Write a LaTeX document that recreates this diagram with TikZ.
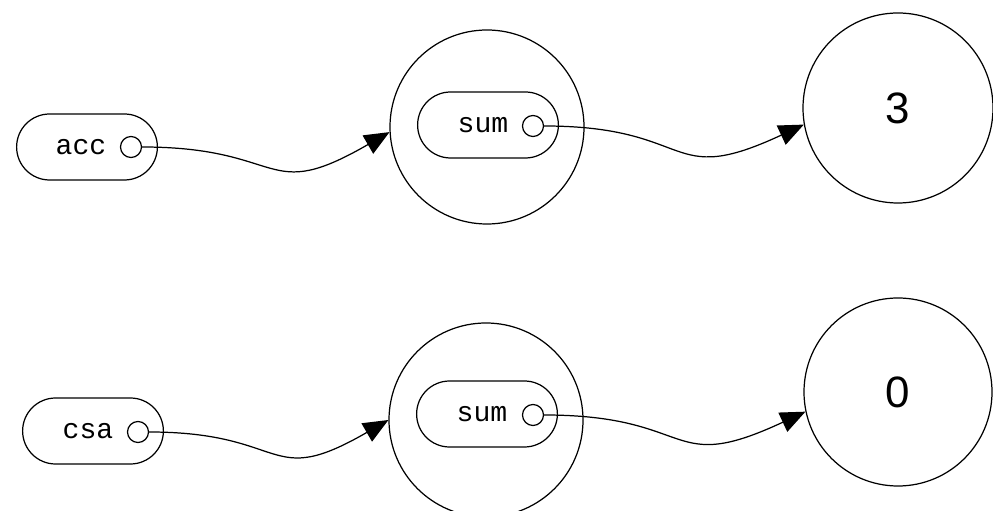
\documentclass[tikz,border=0pt]{standalone}
\usepackage{fontspec}
\setmonofont{Liberation Mono}
\setsansfont{Liberation Sans}
\usetikzlibrary{arrows.meta,positioning,shapes.misc}

\tikzset{
    pill/.style={draw, rounded rectangle, minimum width=3.05cm, minimum height=1.32cm, line width=0.7pt},
    tag/.style={font=\ttfamily\fontsize{16}{18}\selectfont, inner sep=0pt},
    port/.style={draw, circle, minimum size=0.42cm, inner sep=0pt, line width=0.7pt},
    cell/.style={draw, circle, line width=0.7pt},
    value/.style={font=\sffamily\fontsize{25}{28}\selectfont},
    ref/.style={line width=0.7pt, -{Triangle[length=0.5cm,width=0.42cm]}}
}

\begin{document}
\begin{tikzpicture}
    \useasboundingbox (0,0) rectangle (19.86,10.22);

    % top row: acc -> sum -> 3
    \node[pill] (acc) at (1.74,7.28) {};
    \node[tag] (acclabel) at (1.62,7.28) {acc};
    \node[port] (accport) at (2.62,7.28) {};

    \node[cell, minimum size=3.88cm] (sumA) at (9.74,7.68) {};
    \node[pill] (sumApill) at (9.76,7.72) {};
    \node[tag] (sumAlabel) at (9.66,7.72) {sum};
    \node[port] (sumAport) at (10.66,7.70) {};

    \node[cell, minimum size=3.8cm, value] (valA) at (17.96,8.06) {3};

    % bottom row: csa -> sum -> 0
    \node[pill] (csa) at (1.86,1.60) {};
    \node[tag] (csalabel) at (1.76,1.60) {csa};
    \node[port] (csaport) at (2.76,1.58) {};

    \node[cell, minimum size=3.88cm] (sumB) at (9.72,1.82) {};
    \node[pill] (sumBpill) at (9.74,1.94) {};
    \node[tag] (sumBlabel) at (9.64,1.94) {sum};
    \node[port] (sumBport) at (10.66,1.92) {};

    \node[cell, minimum size=3.76cm, value] (valB) at (17.96,2.38) {0};

    % references
    \draw[ref] (accport.east) to[out=0, in=210, looseness=1.5] (sumA.183);
    \draw[ref] (sumAport.east) to[out=0, in=205, looseness=1.5] (valA.190);
    \draw[ref] (csaport.east) to[out=0, in=210, looseness=1.5] (sumB.180);
    \draw[ref] (sumBport.east) to[out=0, in=205, looseness=1.5] (valB.192);
\end{tikzpicture}
\end{document}
